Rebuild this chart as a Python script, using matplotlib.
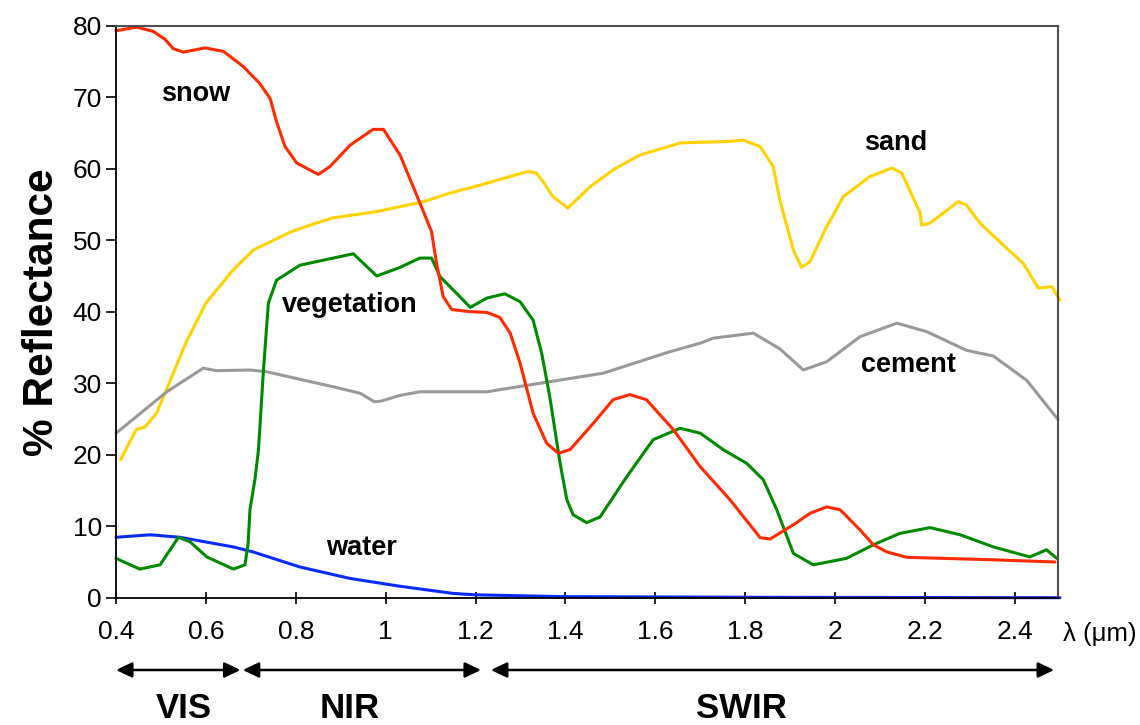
import matplotlib
matplotlib.use("Agg")
import matplotlib.pyplot as plt

plt.rcParams['font.family'] = ['Liberation Sans', 'DejaVu Sans']

# ---- data ----
snow_x = [0.40, 0.446, 0.483, 0.509, 0.527, 0.55, 0.598, 0.639, 0.683, 0.72, 0.743, 0.757, 0.776,
          0.802, 0.85, 0.876, 0.921, 0.972, 0.995, 1.032, 1.069, 1.102, 1.113, 1.128, 1.147, 1.188,
          1.225, 1.254, 1.277, 1.299, 1.328, 1.358, 1.384, 1.41, 1.462, 1.506, 1.543, 1.58, 1.64,
          1.70, 1.766, 1.833, 1.855, 1.907, 1.944, 1.981, 2.011, 2.055, 2.085, 2.115, 2.159, 2.352,
          2.489]
snow_y = [79.3, 79.8, 79.2, 78.1, 76.8, 76.3, 76.9, 76.4, 74.3, 71.9, 69.8, 66.6, 63.1,
          60.8, 59.2, 60.3, 63.3, 65.5, 65.5, 61.9, 56.3, 51.2, 46.8, 42.1, 40.3, 40.0,
          39.9, 39.2, 37.0, 32.8, 25.8, 21.6, 20.2, 20.7, 24.4, 27.7, 28.4, 27.7, 23.5,
          18.3, 13.7, 8.4, 8.2, 10.2, 11.8, 12.7, 12.3, 9.5, 7.4, 6.4, 5.65, 5.3,
          5.0]

sand_x = [0.41, 0.445, 0.465, 0.49, 0.515, 0.555, 0.60, 0.66, 0.705, 0.728, 0.79, 0.846, 0.88, 0.98,
          1.085, 1.143, 1.21, 1.315, 1.335, 1.35, 1.372, 1.405, 1.455, 1.51, 1.565, 1.655, 1.70,
          1.76, 1.795, 1.833, 1.862, 1.877, 1.907, 1.925, 1.944, 1.977, 2.018, 2.077, 2.126, 2.148,
          2.189, 2.192, 2.211, 2.274, 2.292, 2.322, 2.381, 2.418, 2.452, 2.482, 2.50]
sand_y = [19.3, 23.5, 23.9, 25.8, 29.5, 35.6, 41.2, 45.8, 48.6, 49.3, 51.2, 52.4, 53.1, 54.0,
          55.4, 56.6, 57.7, 59.6, 59.4, 58.2, 56.1, 54.5, 57.5, 60.0, 61.9, 63.6, 63.7,
          63.8, 64.0, 63.1, 60.3, 55.6, 48.6, 46.2, 47.0, 51.4, 56.1, 58.9, 60.1, 59.4,
          53.8, 52.1, 52.4, 55.4, 54.9, 52.4, 48.9, 46.8, 43.3, 43.5, 41.6]

veg_x = [0.40, 0.453, 0.498, 0.513, 0.539, 0.565, 0.602, 0.661, 0.687, 0.694, 0.698, 0.709, 0.717,
         0.728, 0.739, 0.757, 0.809, 0.883, 0.928, 0.98, 1.032, 1.076, 1.102, 1.121, 1.165, 1.188,
         1.225, 1.265, 1.299, 1.328, 1.347, 1.365, 1.388, 1.403, 1.417, 1.447, 1.477, 1.536, 1.595,
         1.655, 1.70, 1.751, 1.803, 1.84, 1.87, 1.907, 1.951, 2.025, 2.085, 2.144, 2.211, 2.278,
         2.352, 2.433, 2.47, 2.493]
veg_y = [5.5, 4.0, 4.6, 6.0, 8.45, 7.8, 5.7, 4.0, 4.6, 7.6, 12.3, 16.5, 20.7,
         31.8, 41.2, 44.4, 46.5, 47.5, 48.1, 45.0, 46.2, 47.5, 47.5, 44.9, 42.1, 40.6,
         41.9, 42.5, 41.4, 38.8, 34.2, 28.1, 18.8, 13.7, 11.6, 10.5, 11.3, 16.9, 22.1,
         23.7, 23.0, 20.7, 18.8, 16.5, 12.3, 6.2, 4.6, 5.5, 7.4, 9.0, 9.8, 8.8,
         7.1, 5.7, 6.7, 5.5]

cement_x = [0.40, 0.513, 0.594, 0.624, 0.698, 0.735, 0.883, 0.943, 0.975, 0.99, 1.032, 1.076, 1.225,
            1.314, 1.484, 1.632, 1.70, 1.729, 1.818, 1.877, 1.929, 1.981, 2.055, 2.137, 2.204,
            2.292, 2.352, 2.426, 2.496]
cement_y = [23.0, 28.8, 32.1, 31.75, 31.85, 31.6, 29.5, 28.6, 27.4, 27.5, 28.3, 28.8, 28.8,
            29.7, 31.4, 34.4, 35.6, 36.3, 37.0, 34.8, 31.85, 33.0, 36.5, 38.4, 37.2,
            34.6, 33.8, 30.4, 24.9]

water_x = [0.40, 0.476, 0.542, 0.661, 0.705, 0.809, 0.92, 1.032, 1.15, 1.20, 1.395, 1.877, 2.5]
water_y = [8.45, 8.8, 8.45, 7.1, 6.4, 4.3, 2.7, 1.6, 0.6, 0.4, 0.15, 0.05, 0.0]

tick_vals = [0.4, 0.6, 0.8, 1.0, 1.2, 1.4, 1.6, 1.8, 2.0, 2.2, 2.4]
tick_labels = ['0.4', '0.6', '0.8', '1', '1.2', '1.4', '1.6', '1.8', '2', '2.2', '2.4']

series_labels = ['snow', 'sand', 'vegetation', 'cement', 'water']
label_x = [0.578, 2.135, 0.92, 2.162, 0.947]
label_y = [70.5, 63.6, 40.9, 32.6, 6.95]

bands = ['VIS', 'NIR', 'SWIR']
band_start = [0.40, 0.682, 1.234]
band_end = [0.677, 1.212, 2.487]
band_label_x = [0.55, 0.92, 1.791]

# ---- figure ----
W, H = 1140, 725
fig = plt.figure(figsize=(W / 100, H / 100), dpi=100)
ax = fig.add_axes([116 / W, (H - 597.7) / H, (1057.7 - 116) / W, 572 / H])
ax.set_xlim(0.4, 2.495)
ax.set_ylim(0, 80)

lw = 2.2
style = dict(lw=lw, solid_joinstyle='round', solid_capstyle='round', clip_on=False)
ax.plot(sand_x, sand_y, color='#FFD200', **style)
ax.plot(cement_x, cement_y, color='#999999', **style)
ax.plot(water_x, water_y, color='#0A2BFF', **style)
ax.plot(veg_x, veg_y, color='#008A00', **style)
ax.plot(snow_x, snow_y, color='#FF2A00', **style)

for t, x, y in zip(series_labels, label_x, label_y):
    ax.text(x, y, t, fontsize=19.5, fontweight='bold', ha='center', va='center')

ax.set_xticks(tick_vals)
ax.set_xticklabels(tick_labels)
ax.set_yticks(range(0, 81, 10))
ax.tick_params(axis='x', direction='inout', length=8, width=1.2, labelsize=19, pad=12)
ax.tick_params(axis='y', direction='out', length=7, width=1.2, labelsize=19, pad=3)
for s in ['left', 'bottom']:
    ax.spines[s].set_color('black')
    ax.spines[s].set_linewidth(1.3)
for s in ['top', 'right']:
    ax.spines[s].set_color('#505050')
    ax.spines[s].set_linewidth(1.5)

ax.set_ylabel('% Reflectance', fontsize=30.5, fontweight='bold', labelpad=8)
fig.text(1100 / W, 1 - 634 / H, 'λ (μm)', fontsize=18.5, ha='center', va='center')

arrow_y = (597.7 - 670) / 572
label_yf = (597.7 - 708.5) / 572
for name, s, e, lx in zip(bands, band_start, band_end, band_label_x):
    ax.annotate('', xy=(s, arrow_y), xytext=(e, arrow_y),
                xycoords=('data', 'axes fraction'), textcoords=('data', 'axes fraction'),
                arrowprops=dict(arrowstyle='<|-|>,head_length=0.42,head_width=0.2',
                                color='black', lw=1.8, mutation_scale=23,
                                shrinkA=0, shrinkB=0))
    ax.text(lx, label_yf, name, fontsize=25, fontweight='bold', ha='center', va='center',
            transform=ax.get_xaxis_transform())

fig.savefig('out.png', dpi=100)
